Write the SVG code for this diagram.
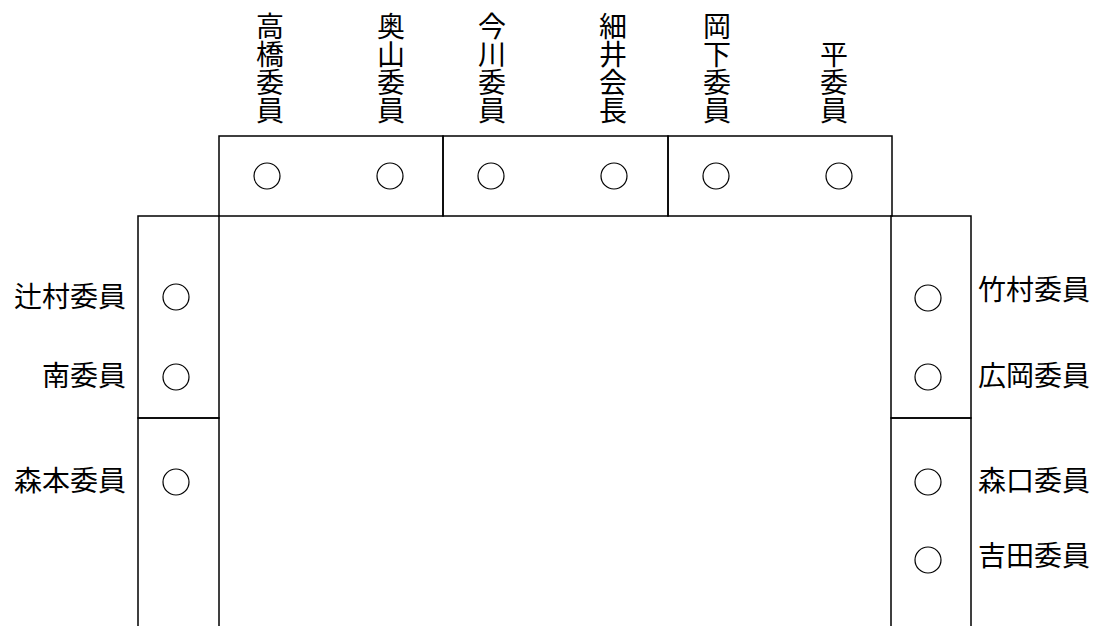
<svg xmlns="http://www.w3.org/2000/svg" width="1100" height="626" viewBox="0 0 1100 626">
<style>
.box{fill:none;stroke:#000;stroke-width:1.5}
.seat{fill:none;stroke:#000;stroke-width:1.2}
.lbl{font-family:"Noto Sans CJK JP","Noto Sans CJK SC",sans-serif;font-size:28px;fill:#000}
.vl{font-family:"Noto Sans CJK JP","Noto Sans CJK SC",sans-serif;font-size:28px;fill:#000;writing-mode:vertical-rl;text-anchor:end}
</style>
<rect width="1100" height="626" fill="#fff"/>
<g id="tables">
<rect class="box" x="219" y="136" width="224" height="80"/>
<rect class="box" x="443" y="136" width="225" height="80"/>
<rect class="box" x="668" y="136" width="224" height="80"/>
<rect class="box" x="138" y="216" width="81" height="202"/>
<rect class="box" x="138" y="418" width="81" height="220"/>
<rect class="box" x="891" y="216" width="80" height="202"/>
<rect class="box" x="891" y="418" width="80" height="220"/>
</g>
<g id="top-seats">
<g id="takahashi"><circle class="seat" cx="267" cy="176" r="13"/><text class="vl" x="270" y="124">高橋委員</text></g>
<g id="okuyama"><circle class="seat" cx="390" cy="176" r="13"/><text class="vl" x="391" y="124">奥山委員</text></g>
<g id="imagawa"><circle class="seat" cx="491" cy="176" r="13"/><text class="vl" x="492" y="124">今川委員</text></g>
<g id="hosoi"><circle class="seat" cx="614" cy="176" r="13"/><text class="vl" x="613" y="124">細井会長</text></g>
<g id="okashita"><circle class="seat" cx="716" cy="176" r="13"/><text class="vl" x="717" y="124">岡下委員</text></g>
<g id="taira"><circle class="seat" cx="839" cy="176" r="13"/><text class="vl" x="834" y="124">平委員</text></g>
</g>
<g id="left-seats">
<g id="tsujimura"><circle class="seat" cx="176" cy="297" r="13"/><text class="lbl" x="126" y="307" text-anchor="end">辻村委員</text></g>
<g id="minami"><circle class="seat" cx="176" cy="377" r="13"/><text class="lbl" x="126" y="386" text-anchor="end">南委員</text></g>
<g id="morimoto"><circle class="seat" cx="176" cy="482" r="13"/><text class="lbl" x="126" y="491" text-anchor="end">森本委員</text></g>
</g>
<g id="right-seats">
<g id="takemura"><circle class="seat" cx="928" cy="298" r="13"/><text class="lbl" x="978" y="300">竹村委員</text></g>
<g id="hirooka"><circle class="seat" cx="928" cy="377" r="13"/><text class="lbl" x="978" y="386">広岡委員</text></g>
<g id="moriguchi"><circle class="seat" cx="928" cy="482" r="13"/><text class="lbl" x="978" y="491">森口委員</text></g>
<g id="yoshida"><circle class="seat" cx="928" cy="560" r="13"/><text class="lbl" x="978" y="566">吉田委員</text></g>
</g>
</svg>
